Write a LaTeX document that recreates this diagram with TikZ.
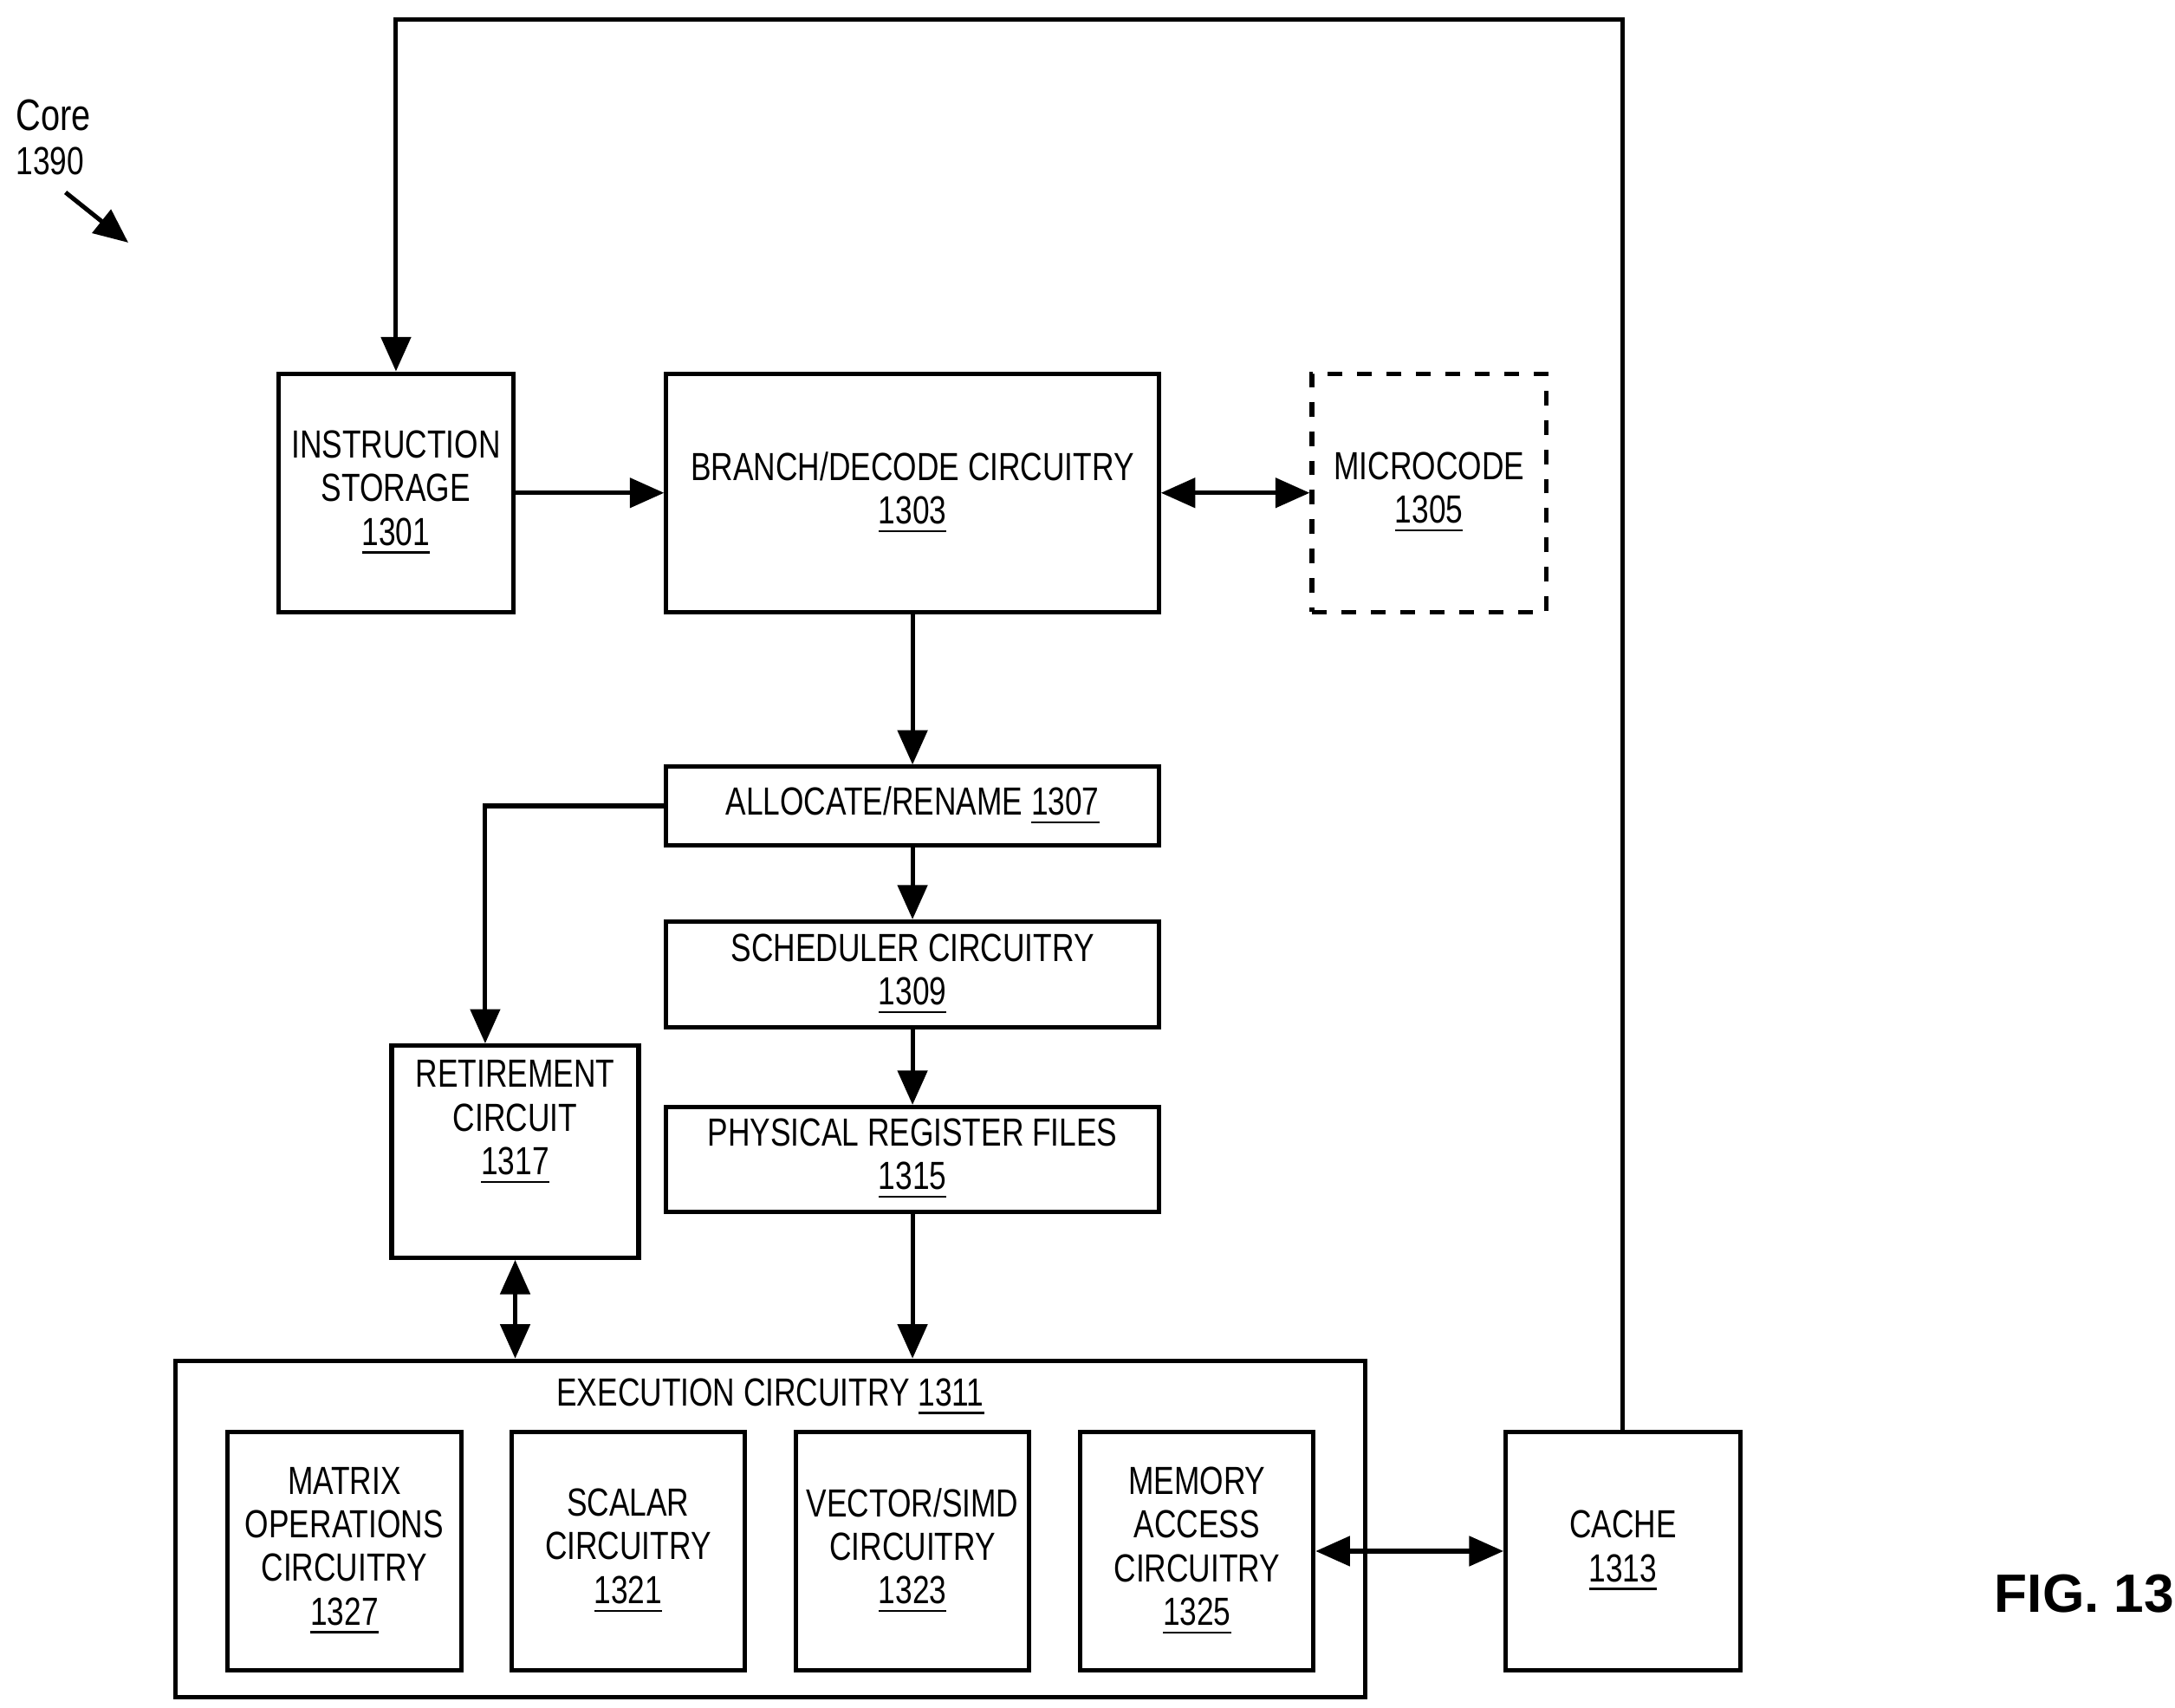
\documentclass[tikz,border=0pt]{standalone}
\usepackage{fontspec}
\setmainfont{Liberation Sans}[FakeStretch=0.78]
\newfontfamily\figfont{Liberation Sans}
\usetikzlibrary{arrows.meta}

\begin{document}
\begin{tikzpicture}[x=0.01cm, y=-0.01cm,
        >={Triangle[width=6pt, length=7pt]},
        every path/.style={line width=0.9pt},
        blk/.style={draw, align=center, inner sep=0pt, font=\fontsize{8}{8.9}\selectfont},
        tag/.style={align=left, inner sep=0pt, font=\fontsize{8}{8.9}\selectfont}
      ]
      \useasboundingbox (0,0) rectangle (1560,1225);

      \node (is) [blk, minimum width=1.68cm, minimum height=1.71cm] at (284,353.5) {INSTRUCTION\\STORAGE\\\underline{1301}};
      \node (bd) [blk, minimum width=3.53cm, minimum height=1.71cm] at (654.5,353.5) {BRANCH/DECODE CIRCUITRY\\\underline{1303}};
      \node (mc) [blk, dashed, minimum width=1.68cm, minimum height=1.71cm] at (1025,353.5) {MICROCODE\\\underline{1305}};
      \node (ar) [blk, minimum width=3.53cm, minimum height=0.56cm] at (654.5,578) {ALLOCATE/RENAME \underline{1307}};
      \node (sc) [blk, minimum width=3.53cm, minimum height=0.76cm] at (654.5,699) {SCHEDULER CIRCUITRY\\\underline{1309}};
      \node (pr) [blk, minimum width=3.53cm, minimum height=0.75cm] at (654.5,831.5) {PHYSICAL REGISTER FILES\\\underline{1315}};
      \node (rc) [blk, minimum width=1.77cm, minimum height=1.52cm] at (369.5,826) {RETIREMENT\\CIRCUIT\\\underline{1317}\\[5pt]};
      \node (ex) [draw, minimum width=8.53cm, minimum height=2.41cm, inner sep=0pt] at (552.5,1096.5) {};
      \node (ext) [tag] at (552.5,1002) {EXECUTION CIRCUITRY \underline{1311}};
      \node (mx) [blk, minimum width=1.68cm, minimum height=1.71cm] at (247,1112.5) {MATRIX\\OPERATIONS\\CIRCUITRY\\\underline{1327}};
      \node (sl) [blk, minimum width=1.67cm, minimum height=1.71cm] at (450.5,1112.5) {SCALAR\\CIRCUITRY\\\underline{1321}};
      \node (vs) [blk, minimum width=1.67cm, minimum height=1.71cm] at (654.5,1112.5) {VECTOR/SIMD\\CIRCUITRY\\\underline{1323}};
      \node (ma) [blk, minimum width=1.67cm, minimum height=1.71cm] at (858.5,1112.5) {MEMORY\\ACCESS\\CIRCUITRY\\\underline{1325}};
      \node (ca) [blk, minimum width=1.68cm, minimum height=1.71cm] at (1164,1112.5) {CACHE\\\underline{1313}};

      \node (core) [tag, anchor=north west] at (10,70) {\fontsize{9}{10.5}\selectfont Core\\1390};
      \coordinate (cs) at (47,138);
      \coordinate (ce) at (92,174);
      \node (fig) [inner sep=0pt, font=\figfont\fontsize{11}{12}\bfseries] at (1495,1143) {FIG. 13};

      \draw[->] (cs) -- (ce);
      \draw[->] (ca.north) |- (284,14) -- (is.north);
      \draw[->] (is) -- (bd);
      \draw[<->] (bd) -- (mc);
      \draw[->] (bd) -- (ar);
      \draw[->] (ar) -- (sc);
      \draw[->] (sc) -- (pr);
      \draw[->] (ar.west) -| (rc.north -| 348,0);
      \draw[<->] (rc.south) -- (ex.north -| rc.south);
      \draw[->] (pr) -- (ex.north -| pr.south);
      \draw[<->] (ma.east) -- (ca.west);

    \end{tikzpicture}
\end{document}
